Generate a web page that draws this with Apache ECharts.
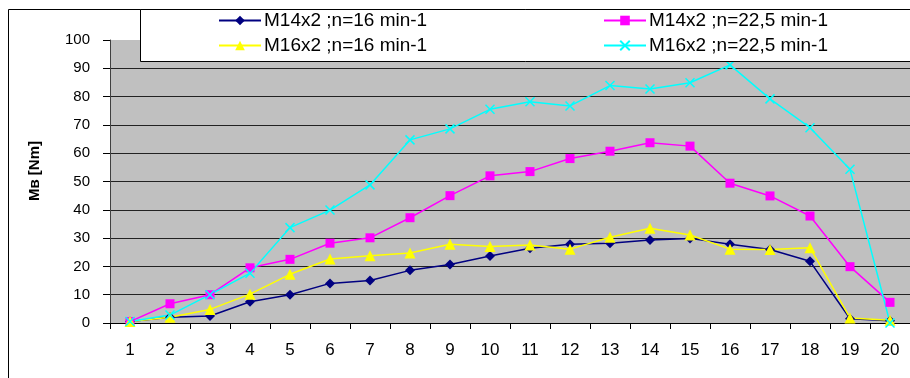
<!DOCTYPE html>
<html><head><meta charset="utf-8">
<script src="https://cdn.jsdelivr.net/npm/echarts@6/dist/echarts.min.js"></script>
<style>html,body{margin:0;padding:0;background:#fff}#c{width:910px;height:378px}</style>
</head><body><div id="c"></div>
<script>
const categories = ['1','2','3','4','5','6','7','8','9','10','11','12','13','14','15','16','17','18','19','20'];
const seriesNames = ['M14x2 ;n=16 min-1','M14x2 ;n=22,5 min-1','M16x2 ;n=16 min-1','M16x2 ;n=22,5 min-1'];
const m14n16 = [0.5, 2, 2.5, 7.5, 10, 14, 15, 18.6, 20.7, 23.7, 26.4, 27.8, 28.2, 29.3, 29.9, 27.8, 26, 21.8, 1.5, 0.8];
const m14n225 = [0.5, 6.8, 10, 19.5, 22.5, 28.2, 30.1, 37.2, 45, 52, 53.5, 58.1, 60.7, 63.7, 62.5, 49.4, 44.9, 37.8, 19.9, 7.3];
const m16n16 = [0.5, 2, 4.8, 10.2, 17.2, 22.6, 23.8, 24.7, 27.8, 27, 27.6, 26.1, 30.3, 33.5, 31.1, 26.1, 26, 26.6, 1.8, 1];
const m16n225 = [0.5, 2.8, 10, 17.6, 33.7, 39.9, 48.8, 64.7, 68.6, 75.5, 78.2, 76.7, 83.9, 82.7, 84.9, 91.2, 79.2, 69, 54.3, 0];
const yTicks = {min: 0, max: 100, interval: 10};
const yTitle = 'Mв [Nm]';

const chart = echarts.init(document.getElementById('c'), null, {renderer: 'canvas'});
const F = 'Liberation Sans, Arial, sans-serif';
const crossPath = 'path://M0,0L10,10M10,0L0,10';
function mk(name, data, color, symbol, size, extra) {
  return Object.assign({
    name, type: 'line', data, symbol, symbolSize: size,
    lineStyle: {color, width: 1.5},
    itemStyle: {color, borderWidth: 0},
    animation: false
  }, extra || {});
}
function lg(name, left, top) {
  return {
    data: [name], left, top, padding: 0, itemWidth: 42, itemHeight: 12, itemGap: 0,
    textStyle: {fontFamily: F, fontSize: 19, color: '#000', padding: [0, 0, 0, -2]},
    selectedMode: false, z: 6
  };
}
chart.setOption({
  animation: false,
  backgroundColor: '#fff',
  grid: {left: 110, top: 40, width: 803, height: 283, show: true, backgroundColor: '#c0c0c0', borderWidth: 0},
  legend: [
    lg(seriesNames[0], 218, 11),
    lg(seriesNames[1], 603, 11),
    lg(seriesNames[2], 218, 36),
    lg(seriesNames[3], 603, 36)
  ],
  xAxis: {
    type: 'category', data: categories, boundaryGap: true,
    axisLine: {lineStyle: {color: '#000', width: 1}},
    axisTick: {show: true, length: 6, lineStyle: {color: '#000'}},
    axisLabel: {fontFamily: F, fontSize: 17, color: '#000', margin: 19}
  },
  yAxis: {
    type: 'value', min: yTicks.min, max: yTicks.max, interval: yTicks.interval,
    axisLine: {show: true, lineStyle: {color: '#404040', width: 1}},
    axisTick: {show: true, length: 7, lineStyle: {color: '#000'}},
    axisLabel: {fontFamily: F, fontSize: 15, color: '#000', margin: 20},
    splitLine: {show: true, lineStyle: {color: ['#222','#222','#222','#222','#222','#222','#222','#222','#222','#222','#c0c0c0'], width: 1}}
  },
  graphic: [
    {type: 'rect', z: -10, shape: {x: 8.5, y: 9.5, width: 940, height: 420}, style: {fill: 'rgba(0,0,0,0)', stroke: '#000', lineWidth: 1}},
    {type: 'rect', z: 5, shape: {x: 140.5, y: 9.5, width: 800, height: 52}, style: {fill: '#fff', stroke: '#000', lineWidth: 1}},
    {type: 'text', x: 35, y: 171, rotation: Math.PI / 2, z: 5,
     style: {text: yTitle, font: 'bold 15px Liberation Sans, Arial, sans-serif', fill: '#000', textAlign: 'center', textVerticalAlign: 'middle'}}
  ],
  series: [
    mk(seriesNames[0], m14n16, '#000080', 'diamond', 10),
    mk(seriesNames[1], m14n225, '#ff00ff', 'rect', 9),
    mk(seriesNames[2], m16n16, '#ffff00', 'triangle', 11),
    mk(seriesNames[3], m16n225, '#00ffff', crossPath, 9, {symbolKeepAspect: true,
      itemStyle: {color: 'rgba(0,0,0,0)', borderColor: '#00ffff', borderWidth: 1.5}})
  ]
});
</script></body></html>
